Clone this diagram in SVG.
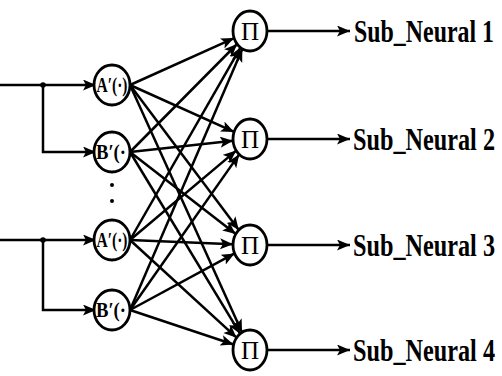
<svg xmlns="http://www.w3.org/2000/svg" width="502" height="376" viewBox="0 0 502 376">
<style>
.ln{stroke:#000;stroke-width:2.5;fill:none}
.nd{stroke:#000;stroke-width:2.8;fill:#fff}
.lb{font-family:"Liberation Serif","Times New Roman",serif;font-weight:bold;fill:#000}
.sm{font-size:20px}
.pi{font-size:25px;font-weight:normal}
.out{font-size:24px}
</style>
<defs>
<marker id="ah" markerUnits="userSpaceOnUse" markerWidth="16" markerHeight="12" refX="13" refY="5.5" orient="auto">
<path d="M0,0 L13,5.5 L0,11 L3,5.5 Z" fill="#000"/>
</marker>
</defs>
<rect width="502" height="376" fill="#fff"/>
<g id="connectors">
<path class="ln" d="M0,85 H96" marker-end="url(#ah)"/>
<path class="ln" d="M43,85 V152 H96" marker-end="url(#ah)"/>
<path class="ln" d="M0,240 H96" marker-end="url(#ah)"/>
<path class="ln" d="M43,240 V310 H96" marker-end="url(#ah)"/>
<circle cx="43" cy="85" r="2.8" fill="#000"/>
<circle cx="43" cy="240" r="2.8" fill="#000"/>
<line class="ln" x1="130" y1="85" x2="234.1" y2="38.1" marker-end="url(#ah)"/>
<line class="ln" x1="130" y1="152" x2="237.1" y2="44" marker-end="url(#ah)"/>
<line class="ln" x1="130" y1="240" x2="240.5" y2="47.6" marker-end="url(#ah)"/>
<line class="ln" x1="130" y1="310" x2="242.3" y2="48.9" marker-end="url(#ah)"/>
<line class="ln" x1="130" y1="85" x2="234.1" y2="131.9" marker-end="url(#ah)"/>
<line class="ln" x1="130" y1="152" x2="233.1" y2="140.8" marker-end="url(#ah)"/>
<line class="ln" x1="130" y1="240" x2="236.2" y2="150.6" marker-end="url(#ah)"/>
<line class="ln" x1="130" y1="310" x2="239.2" y2="154.4" marker-end="url(#ah)"/>
<line class="ln" x1="130" y1="85" x2="238.8" y2="230" marker-end="url(#ah)"/>
<line class="ln" x1="130" y1="152" x2="235.8" y2="234" marker-end="url(#ah)"/>
<line class="ln" x1="130" y1="240" x2="233" y2="244.3" marker-end="url(#ah)"/>
<line class="ln" x1="130" y1="310" x2="234.6" y2="253.4" marker-end="url(#ah)"/>
<line class="ln" x1="130" y1="85" x2="242" y2="332.3" marker-end="url(#ah)"/>
<line class="ln" x1="130" y1="152" x2="240.1" y2="333.7" marker-end="url(#ah)"/>
<line class="ln" x1="130" y1="240" x2="236.6" y2="337.7" marker-end="url(#ah)"/>
<line class="ln" x1="130" y1="310" x2="233.6" y2="344.5" marker-end="url(#ah)"/>
<path class="ln" d="M267,31 H350" marker-end="url(#ah)"/>
<path class="ln" d="M267,139 H350" marker-end="url(#ah)"/>
<path class="ln" d="M267,245 H350" marker-end="url(#ah)"/>
<path class="ln" d="M267,350 H350" marker-end="url(#ah)"/>
</g>
<g id="A1"><ellipse class="nd" cx="112" cy="85" rx="18" ry="20"/><text class="lb sm" x="112" y="92" text-anchor="middle" textLength="31" lengthAdjust="spacingAndGlyphs">A′(·)</text></g>
<g id="B1"><ellipse class="nd" cx="112" cy="152" rx="18" ry="20"/><text class="lb sm" x="111" y="159" text-anchor="middle" textLength="30" lengthAdjust="spacingAndGlyphs">B′(·</text></g>
<g id="dots"><circle cx="112" cy="185" r="2" fill="#000"/><circle cx="112" cy="201" r="2" fill="#000"/></g>
<g id="A2"><ellipse class="nd" cx="112" cy="240" rx="18" ry="20"/><text class="lb sm" x="112" y="247" text-anchor="middle" textLength="31" lengthAdjust="spacingAndGlyphs">A′(·)</text></g>
<g id="B2"><ellipse class="nd" cx="112" cy="310" rx="18" ry="20"/><text class="lb sm" x="111" y="317" text-anchor="middle" textLength="30" lengthAdjust="spacingAndGlyphs">B′(·</text></g>
<g id="P1"><ellipse class="nd" cx="250" cy="31" rx="17" ry="20"/><text class="lb pi" x="250" y="40" text-anchor="middle">Π</text></g>
<g id="P2"><ellipse class="nd" cx="250" cy="139" rx="17" ry="20"/><text class="lb pi" x="250" y="148" text-anchor="middle">Π</text></g>
<g id="P3"><ellipse class="nd" cx="250" cy="245" rx="17" ry="20"/><text class="lb pi" x="250" y="254" text-anchor="middle">Π</text></g>
<g id="P4"><ellipse class="nd" cx="250" cy="350" rx="17" ry="20"/><text class="lb pi" x="250" y="359" text-anchor="middle">Π</text></g>
<g id="O1"><text class="lb out" transform="translate(354,42) scale(1,1.32)" textLength="140" lengthAdjust="spacingAndGlyphs">Sub_Neural 1</text></g>
<g id="O2"><text class="lb out" transform="translate(353,150) scale(1,1.32)" textLength="142" lengthAdjust="spacingAndGlyphs">Sub_Neural 2</text></g>
<g id="O3"><text class="lb out" transform="translate(353,256) scale(1,1.32)" textLength="142" lengthAdjust="spacingAndGlyphs">Sub_Neural 3</text></g>
<g id="O4"><text class="lb out" transform="translate(353,361) scale(1,1.32)" textLength="142" lengthAdjust="spacingAndGlyphs">Sub_Neural 4</text></g>
</svg>
